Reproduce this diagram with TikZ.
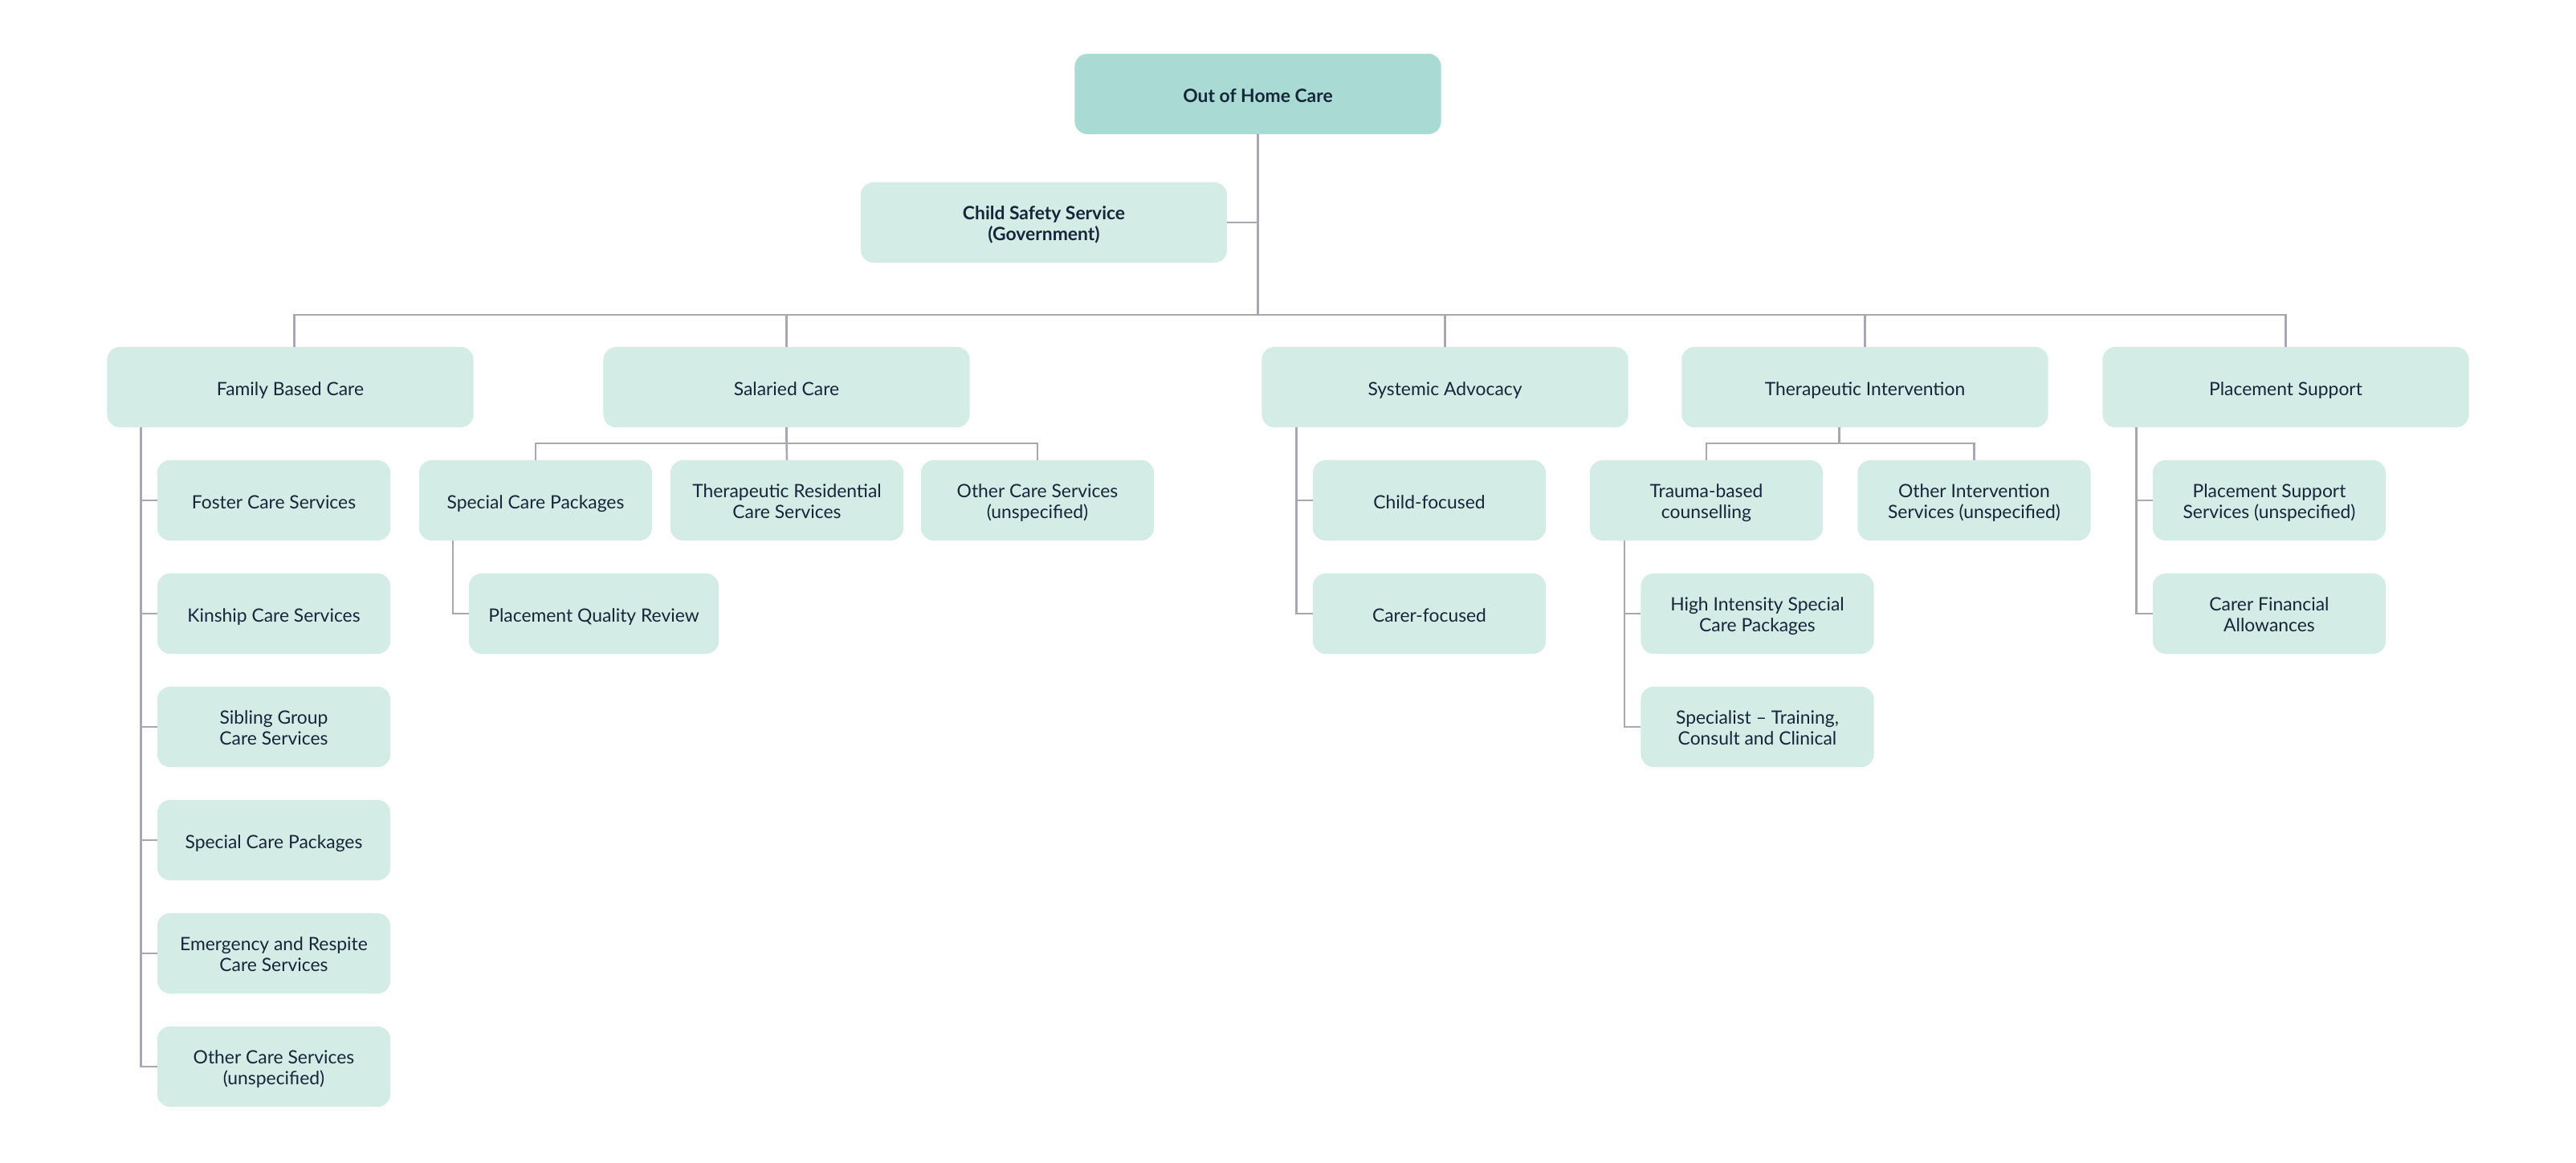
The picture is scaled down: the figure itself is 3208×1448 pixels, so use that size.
\documentclass[tikz,border=0pt]{standalone}
\usepackage{fontspec}
\setmainfont{Lato}
\definecolor{boxfill}{HTML}{D4ECE6}
\definecolor{rootfill}{HTML}{A9DAD3}
\definecolor{ink}{HTML}{15263A}
\definecolor{linec}{HTML}{A8A7B3}
\newcommand\boxfont{\fontsize{6.5}{7.4}\selectfont}
\tikzset{
  box/.style={rectangle, rounded corners=0.16cm, fill=boxfill, text=ink,
    font=\boxfont, align=center, minimum height=1cm, inner sep=0pt, outer sep=0pt,
    execute at begin node={\rule[-1.65pt]{0pt}{9.0pt}},
    execute at end node={\rule[-1.65pt]{0pt}{1pt}}},
  two/.style={execute at begin node={\rule[-1.65pt]{0pt}{16.2pt}}},
  bigbox/.style={box, minimum width=4.56cm},
  smallbox/.style={box, minimum width=2.9cm},
  link/.style={draw=linec, line width=0.7pt},
}
\begin{document}
\begin{tikzpicture}[x=0.01cm, y=-0.01cm]
\useasboundingbox (0,0) rectangle (3208,1448);
\fill[white] (0,0) rectangle (3208,1448);

% top
\node[bigbox, fill=rootfill, font=\boxfont\bfseries] (root) at (1566.5,117) {Out of Home Care};
\node[bigbox, two, font=\boxfont\bfseries] (cs) at (1300,277) {Child Safety Service\\(Government)};

% level 1
\node[bigbox] (fam) at (361.5,482) {Family Based Care};
\node[bigbox] (sal) at (979.5,482) {Salaried Care};
\node[bigbox] (sys) at (1799.5,482) {Systemic Advocacy};
\node[bigbox] (ther) at (2322.5,482) {Therapeutic Intervention};
\node[bigbox] (plc) at (2846.5,482) {Placement Support};

% family children
\node[smallbox] (f1) at (341,623) {Foster Care Services};
\node[smallbox] (f2) at (341,764) {Kinship Care Services};
\node[smallbox, two] (f3) at (341,905) {Sibling Group\\Care Services};
\node[smallbox] (f4) at (341,1046) {Special Care Packages};
\node[smallbox, two] (f5) at (341,1187) {Emergency and Respite\\Care Services};
\node[smallbox, two] (f6) at (341,1328) {Other Care Services\\(unspecified)};

% salaried children
\node[smallbox] (s1) at (667,623) {Special Care Packages};
\node[smallbox, two] (s2) at (980,623) {Therapeutic Residential\\Care Services};
\node[smallbox, two] (s3) at (1292,623) {Other Care Services\\(unspecified)};
\node[box, minimum width=3.11cm] (pqr) at (739.5,764) {Placement Quality Review};

% systemic children
\node[smallbox] (sy1) at (1780,623) {Child-focused};
\node[smallbox] (sy2) at (1780,764) {Carer-focused};

% therapeutic children
\node[smallbox, two] (t1) at (2125,623) {Trauma-based\\counselling};
\node[smallbox, two] (t2) at (2458.5,623) {Other Intervention\\Services (unspecified)};
\node[smallbox, two] (t11) at (2188.5,764) {High Intensity Special\\Care Packages};
\node[smallbox, two] (t12) at (2188.5,905) {Specialist – Training,\\Consult and Clinical};

% placement children
\node[smallbox, two] (p1) at (2826,623) {Placement Support\\Services (unspecified)};
\node[smallbox, two] (p2) at (2826,764) {Carer Financial\\Allowances};

% connectors
\coordinate (bus) at (0,392);
\draw[link] (root.south) -- (root.south |- bus);
\draw[link] (cs.east) -- (cs.east -| root.south);
\draw[link] ([xshift=0.05cm]fam.north) |- (root.south |- bus) -| (plc.north);
\draw[link] (root.south |- bus) -| (sal.north);
\draw[link] (root.south |- bus) -| (sys.north);
\draw[link] (root.south |- bus) -| (ther.north);

\foreach \c in {f1,f2,f3,f4,f5,f6}
  \draw[link] ([xshift=0.42cm]fam.south west) |- (\c.west);

\coordinate (sbus) at ([yshift=-0.2cm]sal.south);
\draw[link] (sal.south) -- (sbus);
\draw[link] (s1.north) |- (sbus) -| (s3.north);
\draw[link] (sbus) -- (s2.north);
\draw[link] ([xshift=0.42cm]s1.south west) |- (pqr.west);

\foreach \c in {sy1,sy2}
  \draw[link] ([xshift=0.43cm]sys.south west) |- (\c.west);

\coordinate (tbus) at ([xshift=-0.32cm,yshift=-0.2cm]ther.south);
\draw[link] ([xshift=-0.32cm]ther.south) -- (tbus);
\draw[link] (t1.north) |- (tbus) -| (t2.north);
\foreach \c in {t11,t12}
  \draw[link] ([xshift=0.43cm]t1.south west) |- (\c.west);

\foreach \c in {p1,p2}
  \draw[link] ([xshift=0.42cm]plc.south west) |- (\c.west);
\end{tikzpicture}
\end{document}
